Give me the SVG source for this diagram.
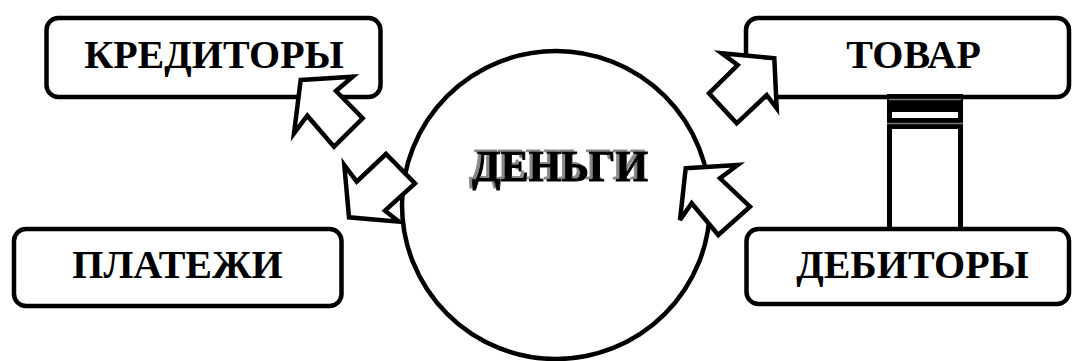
<svg xmlns="http://www.w3.org/2000/svg" width="1072" height="361" viewBox="0 0 1072 361">
<style>
.box{fill:#fff;stroke:#000;stroke-width:4.5}
.lbl{font-family:"Liberation Serif","Times New Roman",serif;font-weight:bold;font-size:40px;text-anchor:middle;fill:#000}
.arr{fill:#fff;stroke:#000;stroke-width:4.5;stroke-linejoin:miter}
.big{font-family:"Liberation Serif","Times New Roman",serif;font-weight:bold;font-size:44px;text-anchor:middle}
</style>
<defs>
<filter id="shadow" x="-10%" y="-20%" width="120%" height="140%">
<feOffset in="SourceAlpha" dx="-3" dy="-2" result="off"/>
<feFlood flood-color="#888" result="g"/>
<feComposite in="g" in2="off" operator="in" result="sh"/>
<feMerge><feMergeNode in="sh"/><feMergeNode in="SourceGraphic"/></feMerge>
</filter>
</defs>
<rect width="1072" height="361" fill="#fff"/>
<g id="money">
<circle cx="556" cy="205" r="154" fill="#fff" stroke="#000" stroke-width="4.5"/>
<text class="big" x="560" y="181" fill="#000" stroke="#000" stroke-width="1" filter="url(#shadow)" textLength="176" lengthAdjust="spacingAndGlyphs">ДЕНЬГИ</text>
</g>
<g id="creditors">
<rect class="box" x="46.5" y="18" width="334" height="79" rx="12"/>
<text class="lbl" x="214" y="68">КРЕДИТОРЫ</text>
</g>
<g id="goods">
<rect class="box" x="746" y="18" width="323" height="79" rx="12"/>
<text class="lbl" x="913.5" y="68">ТОВАР</text>
</g>
<g id="payments">
<rect class="box" x="14" y="229" width="327.5" height="77" rx="12"/>
<text class="lbl" x="177.5" y="278">ПЛАТЕЖИ</text>
</g>
<g id="debtors">
<rect class="box" x="746.5" y="229" width="322.5" height="75" rx="12"/>
<text class="lbl" x="912.5" y="278">ДЕБИТОРЫ</text>
</g>
<g id="connectors">
<g id="pillar">
<rect x="887" y="94" width="76" height="35" fill="#000"/>
<line x1="889" y1="99.5" x2="961" y2="99.5" stroke="#777" stroke-width="1.5"/>
<rect x="892" y="112" width="66" height="6" fill="#fff"/>
<line x1="887" y1="123.5" x2="963" y2="123.5" stroke="#777" stroke-width="1.5"/>
<line x1="889.5" y1="129" x2="889.5" y2="227" stroke="#000" stroke-width="5"/>
<line x1="960.5" y1="129" x2="960.5" y2="227" stroke="#000" stroke-width="5"/>
</g>
<polygon class="arr" points="300.7,80 352.7,76.7 336,91 362.7,118.3 334,146.7 307.3,115.7 294,133.3"/>
<polygon class="arr" points="344.3,165 356.7,181.7 386,154 415,183.3 385,210.7 399,221.7 349,217.3"/>
<polygon class="arr" points="721.7,53.3 774.3,58.3 776.7,108.3 766.7,95 736.7,123.3 709,93.3 737.7,65"/>
<polygon class="arr" points="685.7,168.3 737.7,165 720,178.3 750,206.7 718.3,235 691.7,203.3 680,220"/>
</g>
</svg>
